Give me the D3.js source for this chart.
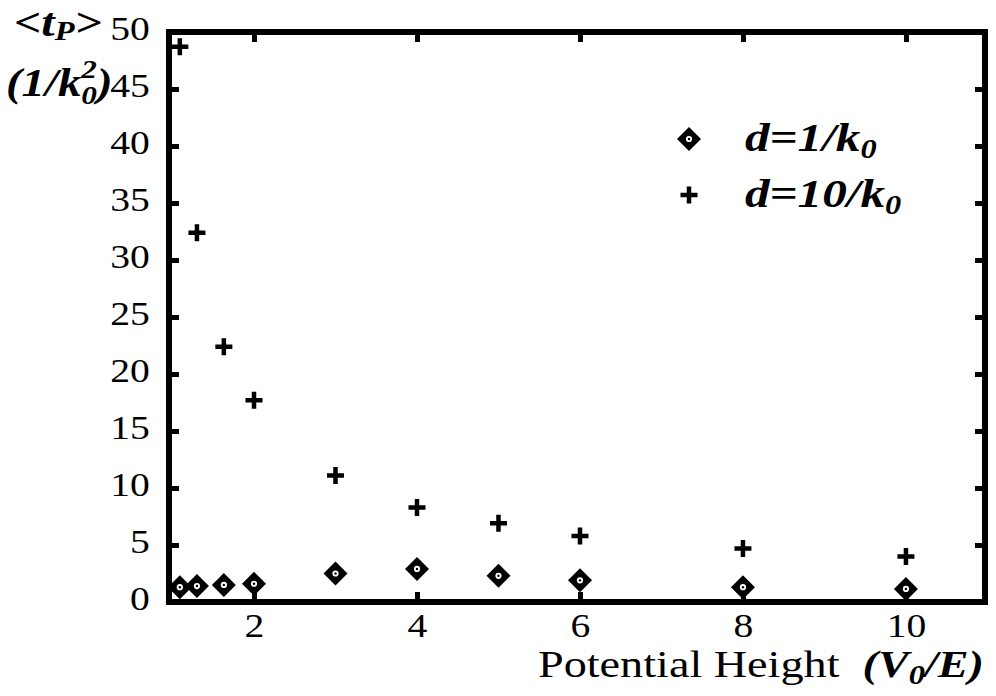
<!DOCTYPE html>
<html>
<head>
<meta charset="utf-8">
<script src="https://cdn.jsdelivr.net/npm/d3@7"></script>
<style>
  html, body { margin: 0; padding: 0; background: #fff; }
  svg { display: block; }
</style>
</head>
<body>
<svg id="chart" width="996" height="696" font-family="Liberation Serif"></svg>
<script>
// Potential height V0/E at which the mean time was evaluated
const potentialHeight = [1.09, 1.3, 1.63, 2, 3, 4, 5, 6, 8, 10];
// <t_P> for the thin barrier, d = 1/k0
const thinBarrier = [1.3, 1.4, 1.5, 1.6, 2.5, 2.9, 2.3, 1.9, 1.3, 1.15];
// <t_P> for the thick barrier, d = 10/k0
const thickBarrier = [48.7, 32.4, 22.4, 17.7, 11.1, 8.3, 6.9, 5.8, 4.7, 4.0];

const xTicks = [2, 4, 6, 8, 10];
const yTicks = [0, 5, 10, 15, 20, 25, 30, 35, 40, 45, 50];

const FONT = "Liberation Serif";
const SX = 1.2;           // horizontal stretch of the lettering

const svg = d3.select("#chart");

const plotLeft = 169, plotRight = 985, plotTop = 32, plotBottom = 602;
const x = d3.scaleLinear().domain([0.957, 10.97]).range([plotLeft, plotRight]);
const y = d3.scaleLinear().domain([0, 50]).range([plotBottom, plotTop]);

// Inward ticks on all four sides
const tickLen = 10;
const styleAxis = g => {
  g.attr("font-family", FONT).attr("font-size", 33);
  g.select(".domain").remove();
  g.selectAll(".tick line").attr("stroke", "#000").attr("stroke-width", 5);
  g.selectAll(".tick text").attr("fill", "#000");
};

svg.append("g")
  .attr("transform", `translate(${plotLeft},0)`)
  .call(d3.axisLeft(y).tickValues(yTicks).tickSize(-tickLen).tickPadding(18).tickFormat(d3.format("d")))
  .call(styleAxis)
  .call(g => g.selectAll(".tick text")
    .attr("dy", 7)
    .attr("transform", `scale(${SX},1)`)
    .attr("x", -18 / SX - 1));

svg.append("g")
  .attr("transform", `translate(${plotRight},0)`)
  .call(d3.axisRight(y).tickValues(yTicks).tickSize(-tickLen).tickFormat(""))
  .call(styleAxis);

svg.append("g")
  .attr("transform", `translate(0,${plotBottom})`)
  .call(d3.axisBottom(x).tickValues(xTicks).tickSize(-tickLen).tickPadding(12).tickFormat(d3.format("d")))
  .call(styleAxis)
  .call(g => g.selectAll(".tick text").attr("transform", `scale(${SX},1)`));

svg.append("g")
  .attr("transform", `translate(0,${plotTop})`)
  .call(d3.axisTop(x).tickValues(xTicks).tickSize(-tickLen).tickFormat(""))
  .call(styleAxis);

// Heavy plot frame
svg.append("rect")
  .attr("x", plotLeft).attr("y", plotTop)
  .attr("width", plotRight - plotLeft).attr("height", plotBottom - plotTop)
  .attr("fill", "none").attr("stroke", "#000").attr("stroke-width", 6);

// Marker drawers
function diamond(g, cx, cy) {
  const r = 12;
  g.append("path")
    .attr("d", `M${cx},${cy - r}L${cx + r},${cy}L${cx},${cy + r}L${cx - r},${cy}Z`)
    .attr("fill", "#000");
  g.append("circle").attr("cx", cx).attr("cy", cy).attr("r", 3.1).attr("fill", "#fff");
  g.append("circle").attr("cx", cx).attr("cy", cy).attr("r", 1.2).attr("fill", "#000");
}
function plus(g, cx, cy) {
  const h = 8.5;
  g.append("path")
    .attr("d", `M${cx - h},${cy}H${cx + h}M${cx},${cy - h}V${cy + h}`)
    .attr("stroke", "#000").attr("stroke-width", 4.5).attr("fill", "none");
}

const thickG = svg.append("g").attr("class", "thick");
potentialHeight.forEach((v, i) => plus(thickG, x(v), y(thickBarrier[i])));

const thinG = svg.append("g").attr("class", "thin");
potentialHeight.forEach((v, i) => diamond(thinG, x(v), y(thinBarrier[i])));

// Stretched text block anchored at (tx, ty)
function label(tx, ty, size, bold) {
  const t = svg.append("text")
    .attr("transform", `translate(${tx},${ty}) scale(${SX},1)`)
    .attr("font-family", FONT).attr("font-size", size).attr("fill", "#000");
  if (bold) t.attr("font-weight", "bold").attr("font-style", "italic");
  return t;
}

// Legend
const legend = svg.append("g");
diamond(legend, 689, 139);
plus(legend, 689, 195);
const legText = (yPos, num) => {
  const t = label(745, yPos, 41, true);
  t.append("tspan").text(`d=${num}/k`);
  t.append("tspan").attr("font-size", 27).attr("dy", 7).text("0");
};
legText(151, "1");
legText(207, "10");

// Y axis title
const yt = label(14, 36, 40, true);
yt.append("tspan").text("<t");
yt.append("tspan").attr("font-size", 27).attr("dy", 4).text("P");
yt.append("tspan").attr("dy", -4).text(">");

const yt2 = label(6, 96, 39, true);
yt2.append("tspan").text("(1/k");
yt2.append("tspan").attr("font-size", 26).attr("dy", -18).text("2");
yt2.append("tspan").attr("font-size", 26).attr("dx", -13).attr("dy", 26).text("0");
yt2.append("tspan").attr("dy", -8).text(")");

// X axis title
const xt = label(538, 677, 38.5, false);
xt.append("tspan").text("Potential Height\u00a0\u00a0");
xt.append("tspan").attr("font-weight", "bold").attr("font-style", "italic").text("(V");
xt.append("tspan").attr("font-weight", "bold").attr("font-style", "italic")
  .attr("font-size", 27).attr("dy", 7).text("0");
xt.append("tspan").attr("font-weight", "bold").attr("font-style", "italic")
  .attr("dy", -7).text("/E)");
</script>
</body>
</html>
